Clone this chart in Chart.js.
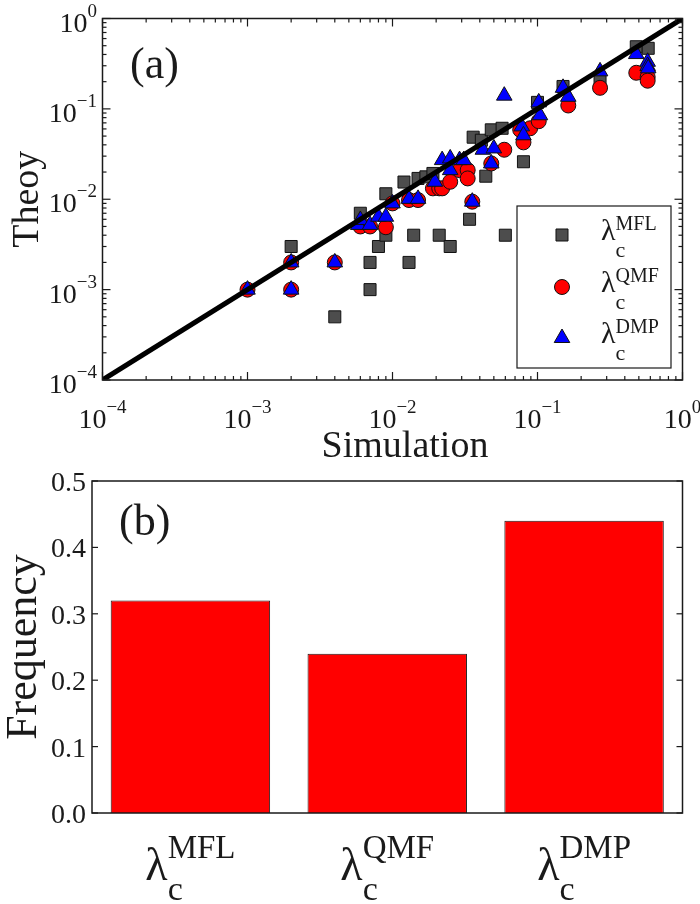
<!DOCTYPE html>
<html>
<head>
<meta charset="utf-8">
<script src="https://cdn.jsdelivr.net/npm/chart.js@4.4.0/dist/chart.umd.min.js"></script>
<style>
html, body { margin: 0; padding: 0; background: #fff; }
#wrap { position: relative; width: 700px; height: 904px; overflow: hidden; }
#topChart { position: absolute; left: 0; top: 0; }
#botChart { position: absolute; left: 0; top: 455px; }
</style>
</head>
<body>
<div id="wrap">
    <canvas id="topChart" width="700" height="470"></canvas>
    <canvas id="botChart" width="700" height="449"></canvas>
</div>
<script>
// --- Données panneau (a) : simulation (x) vs théorie (y) ---
const mflSim    = [0.002, 0.004, 0.006, 0.007, 0.007, 0.008, 0.009, 0.009, 0.012, 0.013, 0.014, 0.015, 0.017, 0.019, 0.021, 0.025, 0.034, 0.036, 0.041, 0.044, 0.048, 0.057, 0.06, 0.08, 0.1, 0.15, 0.27, 0.48, 0.58];
const mflTheory = [0.003, 0.0005, 0.007, 0.002, 0.001, 0.003, 0.004, 0.0115, 0.0155, 0.002, 0.004, 0.017, 0.0177, 0.0193, 0.004, 0.003, 0.006, 0.0486, 0.045, 0.018, 0.0586, 0.061, 0.004, 0.026, 0.118, 0.177, 0.206, 0.487, 0.468];

const qmfSim    = [0.001, 0.002, 0.002, 0.004, 0.006, 0.007, 0.009, 0.01, 0.013, 0.015, 0.019, 0.021, 0.022, 0.025, 0.029, 0.033, 0.033, 0.0355, 0.048, 0.059, 0.076, 0.08, 0.089, 0.102, 0.163, 0.27, 0.48, 0.575, 0.575];
const qmfTheory = [0.001, 0.002, 0.001, 0.002, 0.005, 0.005, 0.0049, 0.009, 0.0098, 0.0098, 0.0132, 0.0132, 0.0132, 0.0156, 0.021, 0.021, 0.017, 0.0094, 0.0249, 0.0353, 0.0586, 0.0426, 0.061, 0.073, 0.109, 0.171, 0.251, 0.225, 0.205];

const dmpSim    = [0.001, 0.002, 0.002, 0.004, 0.0058, 0.006, 0.007, 0.008, 0.009, 0.01, 0.013, 0.015, 0.0196, 0.022, 0.025, 0.025, 0.029, 0.031, 0.0355, 0.042, 0.048, 0.05, 0.059, 0.078, 0.08, 0.102, 0.104, 0.15, 0.163, 0.27, 0.48, 0.575, 0.575, 0.58];
const dmpTheory = [0.001, 0.002, 0.001, 0.002, 0.0052, 0.0059, 0.0052, 0.0064, 0.0064, 0.009, 0.0101, 0.0101, 0.0156, 0.0271, 0.0283, 0.021, 0.0271, 0.0271, 0.0094, 0.0353, 0.0249, 0.0365, 0.14, 0.064, 0.051, 0.118, 0.085, 0.171, 0.136, 0.26, 0.404, 0.332, 0.298, 0.281];

const diagX = [1e-4, 1];
const diagY = [1e-4, 1];
const decades = [-4, -3, -2, -1, 0];

// --- Données panneau (b) ---
const methods = ['MFL', 'QMF', 'DMP'];
const frequency = [0.32, 0.24, 0.44];
const freqTicks = [0, 0.1, 0.2, 0.3, 0.4, 0.5];

const SERIF = '"Liberation Serif", "Times New Roman", serif';
const MARKERS = {
    MFL: { pointStyle: 'rect', radius: 8.5, bg: '#4d4d4d' },
    QMF: { pointStyle: 'circle', radius: 7.5, bg: '#ff0000' },
    DMP: { pointStyle: 'triangle', radius: 9, bg: '#0000ff' }
};

const toPoints = (xs, ys) => xs.map((v, i) => ({ x: v, y: ys[i] }));

function line(ctx, x1, y1, x2, y2) {
    ctx.beginPath();
    ctx.moveTo(x1, y1);
    ctx.lineTo(x2, y2);
    ctx.stroke();
}

// texte "base" avec exposant et/ou indice (lambda_c^XXX, 10^-n)
function drawScript(ctx, x, y, base, baseSize, sup, supSize, supDy, sub, subSize, subDy) {
    ctx.textAlign = 'left';
    ctx.textBaseline = 'alphabetic';
    ctx.font = baseSize + 'px ' + SERIF;
    const wb = ctx.measureText(base).width;
    ctx.fillText(base, x, y);
    if (sup) {
        ctx.font = supSize + 'px ' + SERIF;
        ctx.fillText(sup, x + wb, y + supDy);
    }
    if (sub) {
        ctx.font = subSize + 'px ' + SERIF;
        ctx.fillText(sub, x + wb, y + subDy);
    }
}

function scriptWidth(ctx, base, baseSize, sup, supSize, sub, subSize) {
    ctx.font = baseSize + 'px ' + SERIF;
    const wb = ctx.measureText(base).width;
    let w = 0;
    if (sup) { ctx.font = supSize + 'px ' + SERIF; w = Math.max(w, ctx.measureText(sup).width); }
    if (sub) { ctx.font = subSize + 'px ' + SERIF; w = Math.max(w, ctx.measureText(sub).width); }
    return wb + w;
}

function drawMarker(ctx, name, x, y) {
    const m = MARKERS[name];
    ctx.save();
    ctx.fillStyle = m.bg;
    ctx.strokeStyle = '#111';
    ctx.lineWidth = 1;
    Chart.helpers.drawPoint(ctx, { pointStyle: m.pointStyle, radius: m.radius, rotation: 0, borderWidth: 1 }, x, y);
    ctx.restore();
}

// --- Plugin panneau (a) : cadre, graduations, libellés, légende ---
const topDecor = {
    id: 'topDecor',
    afterDraw(chart) {
        const { ctx, chartArea: a, scales: { x, y } } = chart;
        ctx.save();
        ctx.strokeStyle = '#1a1a1a';
        ctx.fillStyle = '#1a1a1a';
        ctx.lineWidth = 1.2;

        // graduations log, vers l'intérieur, sur les 4 côtés
        decades.forEach(e => {
            for (let m = 1; m <= 9; m++) {
                const v = m * Math.pow(10, e);
                if (v > 1) break;
                const len = m === 1 ? 8 : 4;
                const px = x.getPixelForValue(v);
                const py = y.getPixelForValue(v);
                line(ctx, px, a.bottom, px, a.bottom - len);
                line(ctx, px, a.top, px, a.top + len);
                line(ctx, a.left, py, a.left + len, py);
                line(ctx, a.right, py, a.right - len, py);
            }
        });

        ctx.lineWidth = 1.5;
        ctx.strokeRect(a.left, a.top, a.right - a.left, a.bottom - a.top);

        // libellés 10^n
        decades.forEach(e => {
            const sup = e === 0 ? '0' : '\u2212' + Math.abs(e);
            const w = scriptWidth(ctx, '10', 28, sup, 19);
            const px = x.getPixelForValue(Math.pow(10, e));
            drawScript(ctx, px - w / 2, 428, '10', 28, sup, 19, -15);
            const py = y.getPixelForValue(Math.pow(10, e));
            drawScript(ctx, 97 - w, py + 13, '10', 28, sup, 19, -15);
        });

        // titres d'axes
        ctx.font = '38px ' + SERIF;
        ctx.textAlign = 'center';
        ctx.textBaseline = 'alphabetic';
        ctx.fillText('Simulation', 405, 457);
        ctx.save();
        ctx.translate(38, (a.top + a.bottom) / 2);
        ctx.rotate(-Math.PI / 2);
        ctx.font = '38px ' + SERIF;
        ctx.fillText('Theoy', 0, 0);
        ctx.restore();

        ctx.font = '44px ' + SERIF;
        ctx.textAlign = 'left';
        ctx.fillText('(a)', 130, 78);

        // légende
        const lx = 517, ly = 206, lw = 154, lh = 162;
        ctx.fillStyle = '#fff';
        ctx.fillRect(lx, ly, lw, lh);
        ctx.strokeStyle = '#1a1a1a';
        ctx.lineWidth = 1.2;
        ctx.strokeRect(lx, ly, lw, lh);
        const rows = [235, 287, 338];
        methods.forEach((name, i) => {
            drawMarker(ctx, name, 562, rows[i]);
            ctx.fillStyle = '#1a1a1a';
            drawScript(ctx, 601, rows[i] + 5, '\u03bb', 30, name, 20, -10, 'c', 22, 17);
        });
        ctx.restore();
    }
};

// --- Plugin panneau (b) ---
const botDecor = {
    id: 'botDecor',
    afterDraw(chart) {
        const { ctx, chartArea: a, scales: { x, y } } = chart;
        ctx.save();
        ctx.strokeStyle = '#1a1a1a';
        ctx.fillStyle = '#1a1a1a';
        ctx.lineWidth = 1.2;
        freqTicks.forEach(v => {
            const py = y.getPixelForValue(v);
            line(ctx, a.left, py, a.left + 6, py);
            line(ctx, a.right, py, a.right - 6, py);
            ctx.font = '28px ' + SERIF;
            ctx.textAlign = 'right';
            ctx.textBaseline = 'alphabetic';
            ctx.fillText(v.toFixed(1), 86, py + 10);
        });
        ctx.lineWidth = 1.5;
        ctx.strokeRect(a.left, a.top, a.right - a.left, a.bottom - a.top);

        // libellés lambda_c^XXX sous les barres
        methods.forEach((name, i) => {
            const cx = x.getPixelForValue(i);
            const w = scriptWidth(ctx, '\u03bb', 46, name, 33, 'c', 34);
            drawScript(ctx, cx - w / 2, 425, '\u03bb', 46, name, 33, -22, 'c', 34, 20);
        });

        ctx.font = '44px ' + SERIF;
        ctx.textAlign = 'left';
        ctx.textBaseline = 'alphabetic';
        ctx.fillText('(b)', 119, 80);

        ctx.save();
        ctx.translate(36, (a.top + a.bottom) / 2);
        ctx.rotate(-Math.PI / 2);
        ctx.font = '44px ' + SERIF;
        ctx.textAlign = 'center';
        ctx.fillText('Frequency', 0, 0);
        ctx.restore();
        ctx.restore();
    }
};

const scatterSet = (name, xs, ys, order) => ({
    label: name,
    data: toPoints(xs, ys),
    pointStyle: MARKERS[name].pointStyle,
    pointRadius: MARKERS[name].radius,
    backgroundColor: MARKERS[name].bg,
    borderColor: '#111',
    borderWidth: 1,
    showLine: false,
    order: order
});

new Chart(document.getElementById('topChart'), {
    type: 'scatter',
    data: {
        datasets: [
            {
                label: 'y = x',
                data: toPoints(diagX, diagY),
                showLine: true,
                borderColor: '#000',
                borderWidth: 5,
                pointRadius: 0,
                order: 0
            },
            scatterSet('DMP', dmpSim, dmpTheory, 1),
            scatterSet('QMF', qmfSim, qmfTheory, 2),
            scatterSet('MFL', mflSim, mflTheory, 3)
        ]
    },
    options: {
        responsive: false,
        animation: false,
        events: [],
        layout: { padding: { top: 18.5, right: 17.5, left: 0, bottom: 0 } },
        plugins: { legend: { display: false }, tooltip: { enabled: false } },
        scales: {
            x: {
                type: 'logarithmic', min: 1e-4, max: 1,
                grid: { display: false }, border: { display: false },
                ticks: { display: false },
                afterFit: s => { s.height = 90; }
            },
            y: {
                type: 'logarithmic', min: 1e-4, max: 1,
                grid: { display: false }, border: { display: false },
                ticks: { display: false },
                afterFit: s => { s.width = 102.5; }
            }
        }
    },
    plugins: [topDecor]
});

new Chart(document.getElementById('botChart'), {
    type: 'bar',
    data: {
        labels: methods,
        datasets: [{
            label: 'Frequency',
            data: frequency,
            backgroundColor: '#ff0000',
            borderColor: '#1a1a1a',
            borderWidth: 1,
            barPercentage: 0.81,
            categoryPercentage: 1
        }]
    },
    options: {
        responsive: false,
        animation: false,
        events: [],
        layout: { padding: { top: 26, right: 17.5, left: 0, bottom: 0 } },
        plugins: { legend: { display: false }, tooltip: { enabled: false } },
        scales: {
            x: {
                grid: { display: false }, border: { display: false },
                ticks: { display: false },
                afterFit: s => { s.height = 91; }
            },
            y: {
                min: 0, max: 0.5,
                grid: { display: false }, border: { display: false },
                ticks: { display: false },
                afterFit: s => { s.width = 92; }
            }
        }
    },
    plugins: [botDecor]
});
</script>
</body>
</html>
